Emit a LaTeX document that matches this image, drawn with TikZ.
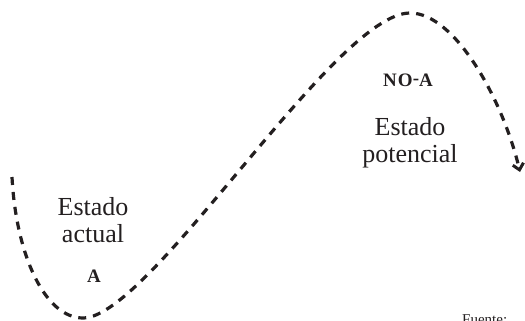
\documentclass[tikz,border=0pt]{standalone}
\usepackage{fontspec}
\setmainfont{Liberation Serif}
\usetikzlibrary{arrows.meta}
\definecolor{ink}{HTML}{231F20}
\begin{document}
\begin{tikzpicture}[x=1pt,y=-1pt,
  curve/.style={draw=ink, line width=3.2pt, dash pattern=on 8pt off 7pt,
    -{Straight Barb[length=6pt,width=11pt,line width=3pt]}},
  lbl/.style={font=\fontsize{26}{27}\selectfont, text=ink, inner sep=0pt, anchor=base},
  caps/.style={font=\fontsize{19}{21}\selectfont\bfseries\addfontfeature{LetterSpace=6}, text=ink, inner sep=0pt, anchor=base},
  src/.style={font=\fontsize{15}{17}\selectfont, text=ink, inner sep=0pt, anchor=north west}]
\useasboundingbox (0,0) rectangle (525,321);
\coordinate (s) at (12,177);
\coordinate (lo) at (83,318);
\coordinate (hi) at (410,13);
\coordinate (e) at (520,172);
\draw[curve] (s) .. controls (16,255) and (45,318) .. (lo)
  .. controls (150,318) and (335,13) .. (hi)
  .. controls (455,13) and (503,100) .. (e);
\node[lbl] (ea1) at (93,215) {Estado};
\node[lbl] (ea2) at (93,242) {actual};
\node[caps] (a) at (94,282) {A};
\node[caps] (noa) at (408,87) {NO\raisebox{2.5pt}{-}A};
\node[lbl] (ep1) at (410,135) {Estado};
\node[lbl] (ep2) at (410,162) {potencial};
\node[src] (fu) at (462,314) {Fuente:};
\end{tikzpicture}
\end{document}
